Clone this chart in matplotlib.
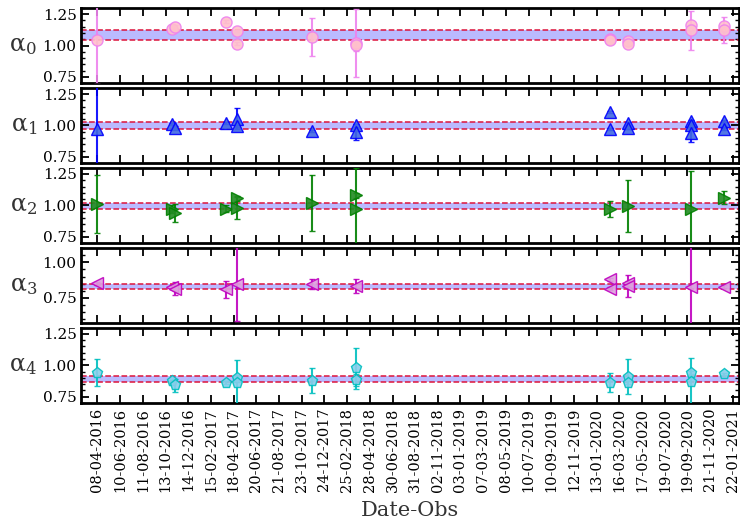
import matplotlib
matplotlib.use("Agg")
import matplotlib.pyplot as plt
from matplotlib.ticker import AutoMinorLocator, MultipleLocator
import numpy as np

plt.rcParams['font.family'] = 'DejaVu Serif'
plt.rcParams['mathtext.fontset'] = 'dejavuserif'

t0 = np.datetime64('2016-04-08')

# observation epochs
obs_dates = ['2016-04-08', '2016-10-30', '2016-11-07', '2017-03-29', '2017-04-28',
             '2017-11-19', '2018-03-22', '2020-02-18', '2020-04-08', '2020-09-29',
             '2020-12-28']

# tick labels on the date axis
tick_labels = ['08-04-2016', '10-06-2016', '11-08-2016', '13-10-2016', '14-12-2016',
               '15-02-2017', '18-04-2017', '20-06-2017', '21-08-2017', '23-10-2017',
               '24-12-2017', '25-02-2018', '28-04-2018', '30-06-2018', '31-08-2018',
               '02-11-2018', '03-01-2019', '07-03-2019', '08-05-2019', '10-07-2019',
               '10-09-2019', '12-11-2019', '13-01-2020', '16-03-2020', '17-05-2020',
               '19-07-2020', '19-09-2020', '21-11-2020', '22-01-2021']

# per panel: epoch index, value, error
a0_idx = [0, 1, 2, 3, 4, 4, 5, 6, 6, 7, 7, 8, 8, 9, 9, 10, 10]
a0_val = [1.047, 1.128, 1.15, 1.19, 1.117, 1.014, 1.068, 1.02, 1.006, 1.055, 1.041,
          1.035, 1.014, 1.164, 1.123, 1.156, 1.123]
a0_err = [0.35, 0.01, 0.01, 0.01, 0.01, 0.01, 0.15, 0.27, 0.05, 0.01, 0.01,
          0.01, 0.01, 0.01, 0.155, 0.01, 0.105]

a1_idx = [0, 1, 2, 3, 4, 4, 5, 6, 6, 7, 7, 8, 8, 9, 9, 9, 10, 10]
a1_val = [0.97, 1.01, 0.982, 1.018, 1.055, 0.996, 0.956, 1.0, 0.948, 1.108, 0.97,
          1.017, 0.983, 1.036, 1.0, 0.937, 1.036, 0.97]
a1_err = [0.35, 0.01, 0.01, 0.01, 0.08, 0.01, 0.01, 0.01, 0.06, 0.01, 0.01,
          0.01, 0.01, 0.01, 0.01, 0.065, 0.01, 0.01]

a2_idx = [0, 1, 2, 3, 4, 4, 5, 6, 6, 7, 8, 9, 10]
a2_val = [1.01, 0.97, 0.938, 0.975, 1.055, 0.98, 1.018, 1.08, 0.975, 0.97, 0.996,
          0.975, 1.062]
a2_err = [0.23, 0.03, 0.07, 0.03, 0.02, 0.09, 0.22, 0.02, 0.32, 0.065, 0.205,
          0.3, 0.05]

a3_idx = [0, 1, 2, 3, 4, 5, 6, 7, 7, 8, 8, 9, 10]
a3_val = [0.853, 0.829, 0.814, 0.81, 0.846, 0.85, 0.834, 0.88, 0.814, 0.857, 0.834,
          0.829, 0.829]
a3_err = [0.01, 0.01, 0.045, 0.06, 0.26, 0.035, 0.05, 0.01, 0.01, 0.01, 0.08,
          0.35, 0.01]

a4_idx = [0, 1, 2, 3, 4, 4, 5, 6, 6, 7, 8, 8, 9, 9, 10]
a4_val = [0.942, 0.876, 0.841, 0.862, 0.902, 0.862, 0.876, 0.975, 0.884, 0.862,
          0.91, 0.862, 0.942, 0.868, 0.93]
a4_err = [0.107, 0.01, 0.05, 0.01, 0.01, 0.18, 0.1, 0.16, 0.05, 0.075, 0.14,
          0.01, 0.01, 0.19, 0.01]

# mean and its uncertainty (band) per panel
band_mid = [1.087, 1.001, 0.996, 0.83, 0.892]
band_hw = [0.04, 0.029, 0.026, 0.016, 0.024]

ylims = [(0.7, 1.3), (0.7, 1.3), (0.7, 1.3), (0.57, 1.105), (0.7, 1.3)]

days = (np.array(obs_dates, dtype='datetime64[D]') - t0).astype(float)
tick_days = np.array([(np.datetime64(f'{s[6:]}-{s[3:5]}-{s[:2]}') - t0).astype(float)
                      for s in tick_labels])

panels = [
    (a0_idx, a0_val, a0_err, 'o', 'pink', 'violet', 'violet', 'α$_0$'),
    (a1_idx, a1_val, a1_err, '^', 'royalblue', 'blue', 'blue', 'α$_1$'),
    (a2_idx, a2_val, a2_err, '>', 'forestgreen', 'green', 'green', 'α$_2$'),
    (a3_idx, a3_val, a3_err, '<', 'plum', 'm', 'm', 'α$_3$'),
    (a4_idx, a4_val, a4_err, 'p', 'skyblue', 'c', 'c', 'α$_4$'),
]

fig, axs = plt.subplots(5, 1, figsize=(7.4, 5.2), dpi=100, sharex=True)
fig.subplots_adjust(left=0.11, right=0.999, top=0.985, bottom=0.225, hspace=0.06)

for i, (ax, (idx, val, err, mk, fc, ec, erc, lab)) in enumerate(zip(axs, panels)):
    x = days[np.array(idx)]
    ax.fill_between([-100, 2000], band_mid[i] - band_hw[i], band_mid[i] + band_hw[i],
                    color='blue', alpha=0.27, lw=0, zorder=1)
    for s in (-1, 1):
        ax.axhline(band_mid[i] + s * band_hw[i], color='crimson', ls='--', lw=1.1, zorder=2)
    ax.errorbar(x, val, yerr=err, fmt=mk, ms=8, mfc=fc, mec=ec, ecolor=erc,
                elinewidth=1.5, capsize=2, alpha=0.9, zorder=3)
    ax.set_ylim(*ylims[i])
    ax.yaxis.set_major_locator(MultipleLocator(0.25))
    ax.yaxis.set_minor_locator(AutoMinorLocator())
    ax.set_ylabel(lab, fontsize=17, rotation=0, labelpad=4, va='center', ha='right',
                  color='#333333')
    ax.tick_params(which='both', direction='in', top=True, right=True, labelsize=11)
    ax.tick_params(which='major', length=6, width=1.3)
    ax.tick_params(which='minor', length=3, width=1)
    for sp in ax.spines.values():
        sp.set_linewidth(2)

axs[-1].set_xlim(-44, 1768)
axs[-1].set_xticks(tick_days)
axs[-1].set_xticklabels(tick_labels, rotation=90, fontsize=10.5)
axs[-1].set_xlabel('Date-Obs', fontsize=15, color='#333333', labelpad=6)

fig.savefig('out.png', dpi=100)
